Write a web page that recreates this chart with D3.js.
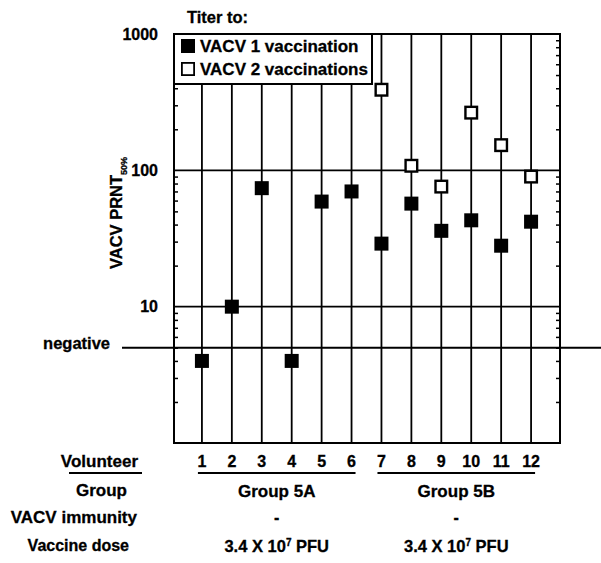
<!DOCTYPE html>
<html><head><meta charset="utf-8">
<script src="https://cdn.jsdelivr.net/npm/d3@7"></script>
<style>body{margin:0;background:#fff}svg{display:block}text{font-family:"Liberation Sans",Arial,Helvetica,sans-serif;font-weight:bold;fill:#000;stroke:#000;stroke-width:0.3px}</style>
</head><body><svg id="c" width="601" height="563"></svg>
<script>
const volunteers = [1,2,3,4,5,6,7,8,9,10,11,12];
const oneVaccination = [4, 10, 74, 4, 59, 70, 29, 57, 36, 43, 28, 42];
const twoVolunteers = [7,8,9,10,11,12];
const twoVaccinations = [390, 108, 76, 265, 153, 90];
const yTicks = [10, 100, 1000];
const negativeValue = 5;
const groups = [{name:"Group 5A", from:1, to:6, immunity:"-", dose:"3.4 X 10", exp:"7", unit:" PFU"},
                {name:"Group 5B", from:7, to:12, immunity:"-", dose:"3.4 X 10", exp:"7", unit:" PFU"}];
const rowLabels = ["Volunteer","Group","VACV immunity","Vaccine dose"];
const legendLabels = ["VACV 1 vaccination","VACV 2 vaccinations"];

const svg = d3.select("#c");
const L=174, R=560, T=34, B=443;
const x = d3.scaleLinear().domain([0,13]).range([172,561]);
const y = d3.scaleLog().domain([1,1000]).range([B,T]);
const legendBottom = 84, legendRight = 372;

// minor ticks
const minor = [];
for (let d of [1,10,100]) for (let k=2;k<=9;k++) minor.push(d*k);
svg.append("g").attr("transform",`translate(${L},0)`)
  .call(d3.axisRight(y).tickValues(minor).tickSize(4).tickFormat(""))
  .call(g=>{g.select(".domain").remove();g.selectAll("line").attr("stroke","#000").attr("stroke-width",1.5);});
svg.append("g").attr("transform",`translate(${R},0)`)
  .call(d3.axisLeft(y).tickValues(minor).tickSize(4).tickFormat(""))
  .call(g=>{g.select(".domain").remove();g.selectAll("line").attr("stroke","#000").attr("stroke-width",1.5);});

// gridlines at 10, 100
svg.append("g").selectAll("line").data([10,100]).join("line")
  .attr("x1",L).attr("x2",R).attr("y1",d=>y(d)).attr("y2",d=>y(d))
  .attr("stroke","#000").attr("stroke-width",1.6);

// vertical lines
svg.append("g").selectAll("line").data(volunteers).join("line")
  .attr("x1",d=>x(d)).attr("x2",d=>x(d))
  .attr("y1",d=>x(d)<legendRight?legendBottom:T).attr("y2",B)
  .attr("stroke","#000").attr("stroke-width",1.8);

// negative line
svg.append("line").attr("x1",122).attr("x2",601).attr("y1",y(negativeValue)).attr("y2",y(negativeValue))
  .attr("stroke","#000").attr("stroke-width",2);
svg.append("text").attr("x",110).attr("y",y(negativeValue)).attr("dy","0.1em").attr("text-anchor","end")
  .attr("font-size",16.5).text("negative");

// frame
svg.append("rect").attr("x",L).attr("y",T).attr("width",R-L).attr("height",B-T)
  .attr("fill","none").attr("stroke","#000").attr("stroke-width",2);

// y labels
svg.append("g").selectAll("text").data(yTicks).join("text")
  .attr("x",158).attr("y",d=>y(d)).attr("dy","0.35em").attr("text-anchor","end")
  .attr("font-size",16).text(d=>d);

// y title
const yt = svg.append("text").attr("transform","translate(122,213) rotate(-90)")
  .attr("text-anchor","middle").attr("font-size",16.5);
yt.append("tspan").text("VACV PRNT");
yt.append("tspan").attr("font-size",9).attr("dy",5).text("50%");

// Titer to:
svg.append("text").attr("x",187).attr("y",23).attr("font-size",16.5).text("Titer to:");

// markers
const s = 14;
svg.append("g").selectAll("rect").data(volunteers).join("rect")
  .attr("x",(d)=>x(d)-s/2).attr("y",(d,i)=>y(oneVaccination[i])-s/2)
  .attr("width",s).attr("height",s).attr("fill","#000");
svg.append("g").selectAll("rect").data(twoVolunteers).join("rect")
  .attr("x",d=>x(d)-s/2+1.2).attr("y",(d,i)=>y(twoVaccinations[i])-s/2+1.2)
  .attr("width",s-2.4).attr("height",s-2.4).attr("fill","#fff").attr("stroke","#000").attr("stroke-width",2.4);

// legend
svg.append("rect").attr("x",L).attr("y",T).attr("width",legendRight-L).attr("height",legendBottom-T)
  .attr("fill","#fff").attr("stroke","#000").attr("stroke-width",2);
const lg = svg.append("g").selectAll("g").data(legendLabels).join("g")
  .attr("transform",(d,i)=>`translate(181,${46+i*23})`);
lg.append("rect").attr("x",(d,i)=>i?0.9:0).attr("y",(d,i)=>-7+(i?0.9:0))
  .attr("width",(d,i)=>i?12.2:14).attr("height",(d,i)=>i?12.2:14)
  .attr("fill",(d,i)=>i?"#fff":"#000").attr("stroke",(d,i)=>i?"#000":"none").attr("stroke-width",1.8);
lg.append("text").attr("x",19).attr("dy","0.36em").attr("font-size",17).text(d=>d);

// bottom numbers
svg.append("g").selectAll("text").data(volunteers).join("text")
  .attr("x",d=>x(d)).attr("y",467).attr("text-anchor","middle").attr("font-size",16).text(d=>d);

// row labels
const rowY = [467, 496, 523, 551];
const rowX = [138, 127, 137, 129];
const rowSize = [17, 17, 17, 16];
svg.append("g").selectAll("text").data(rowLabels).join("text")
  .attr("x",(d,i)=>rowX[i]).attr("y",(d,i)=>rowY[i]).attr("text-anchor","end")
  .attr("font-size",(d,i)=>rowSize[i]).text(d=>d);
svg.append("line").attr("x1",69).attr("x2",142).attr("y1",473).attr("y2",473).attr("stroke","#000").attr("stroke-width",2);

// group underlines and texts
const gg = svg.append("g").selectAll("g").data(groups).join("g");
gg.append("line").attr("x1",d=>x(d.from)-4).attr("x2",d=>x(d.to)+4).attr("y1",473).attr("y2",473)
  .attr("stroke","#000").attr("stroke-width",2);
gg.append("text").attr("x",d=>(x(d.from)+x(d.to))/2).attr("y",497).attr("text-anchor","middle").attr("font-size",17).text(d=>d.name);
gg.append("text").attr("x",d=>(x(d.from)+x(d.to))/2).attr("y",523).attr("text-anchor","middle").attr("font-size",16).text(d=>d.immunity);
const dt = gg.append("text").attr("x",d=>(x(d.from)+x(d.to))/2).attr("y",552).attr("text-anchor","middle").attr("font-size",16.5);
dt.append("tspan").text(d=>d.dose);
dt.append("tspan").attr("font-size",10).attr("dy",-6).text(d=>d.exp);
dt.append("tspan").attr("dy",6).text(d=>d.unit);
</script></body></html>
